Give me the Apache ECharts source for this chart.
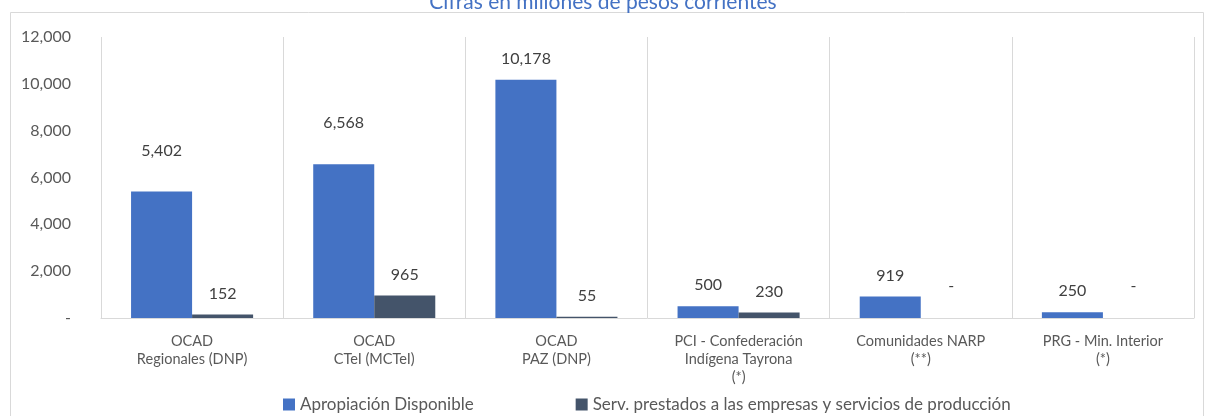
<!DOCTYPE html>
<html>
<head>
<meta charset="utf-8">
<style>
  html, body { margin: 0; padding: 0; background: #fff; }
  #chart { width: 1206px; height: 416px; }
</style>
<script src="https://cdn.jsdelivr.net/npm/echarts@6/dist/echarts.min.js"></script>
</head>
<body>
<div id="chart"></div>
<script>
const categories = [
  'OCAD\nRegionales (DNP)',
  'OCAD\nCTeI (MCTeI)',
  'OCAD\nPAZ (DNP)',
  'PCI - Confederación\nIndígena Tayrona\n(*)',
  'Comunidades NARP\n(**)',
  'PRG - Min. Interior\n(*)'
]
const seriesNames = [
  'Apropiación Disponible',
  'Serv. prestados a las empresas y servicios de producción'
]
const apropiacion = [5402, 6568, 10178, 500, 919, 250]
const servicios = [152, 965, 55, 230, 0, 0]
const yTicks = [0, 2000, 4000, 6000, 8000, 10000, 12000]

const font = 'Lato, "Open Sans", sans-serif'
const fmt = v => (v === 0 ? '-' : v.toLocaleString('en-US'))

// Excel labels were nudged by hand on a couple of bars
const extraLift = { 0: 22, 1: 22 }

function labelFor(value, idx) {
  let dist = 13
  if (value === 0) dist = 24
  if (extraLift[idx]) dist += extraLift[idx] - 2
  return { distance: dist }
}

const chart = echarts.init(document.getElementById('chart'))

chart.setOption({
  backgroundColor: '#fff',
  animation: false,
  textStyle: { fontFamily: font },
  title: {
    text: 'Cifras en millones de pesos corrientes',
    left: 'center',
    top: -13,
    textStyle: { color: '#4472C4', fontSize: 21, fontWeight: 'normal', fontFamily: font }
  },
  graphic: [{
    type: 'rect',
    shape: { x: 10.5, y: 12.5, width: 1193, height: 420 },
    style: { fill: 'none', stroke: '#d9d9d9', lineWidth: 1 },
    silent: true
  }],
  grid: { left: 101, right: 12, top: 37, bottom: 98 },
  legend: {
    bottom: -2,
    left: 278,
    itemGap: 102,
    itemWidth: 12,
    itemHeight: 12,
    icon: 'rect',
    textStyle: { color: '#595959', fontSize: 17, fontFamily: font },
    data: seriesNames
  },
  xAxis: {
    type: 'category',
    data: categories,
    axisLine: { lineStyle: { color: '#d9d9d9' } },
    axisTick: { show: false },
    splitLine: { show: true, lineStyle: { color: '#d9d9d9' } },
    axisLabel: { color: '#595959', fontSize: 14.5, lineHeight: 18, margin: 14, interval: 0, fontFamily: font }
  },
  yAxis: {
    type: 'value',
    min: yTicks[0],
    max: yTicks[yTicks.length - 1],
    interval: 2000,
    axisLine: { show: false },
    axisTick: { show: false },
    splitLine: { show: false },
    axisLabel: { color: '#595959', fontSize: 16, margin: 30, formatter: fmt, fontFamily: font }
  },
  series: [
    {
      name: seriesNames[0],
      type: 'bar',
      barGap: '0%',
      barCategoryGap: '33%',
      itemStyle: { color: '#4472C4' },
      label: { show: true, position: 'top', color: '#404040', fontSize: 16, formatter: p => fmt(p.value), fontFamily: font },
      data: apropiacion.map((v, i) => ({ value: v, label: labelFor(v, i) }))
    },
    {
      name: seriesNames[1],
      type: 'bar',
      itemStyle: { color: '#44546A' },
      label: { show: true, position: 'top', color: '#404040', fontSize: 16, formatter: p => fmt(p.value), fontFamily: font },
      data: servicios.map(v => ({ value: v, label: labelFor(v, -1) }))
    }
  ]
})

window.addEventListener('resize', () => chart.resize())
</script>
</body>
</html>
